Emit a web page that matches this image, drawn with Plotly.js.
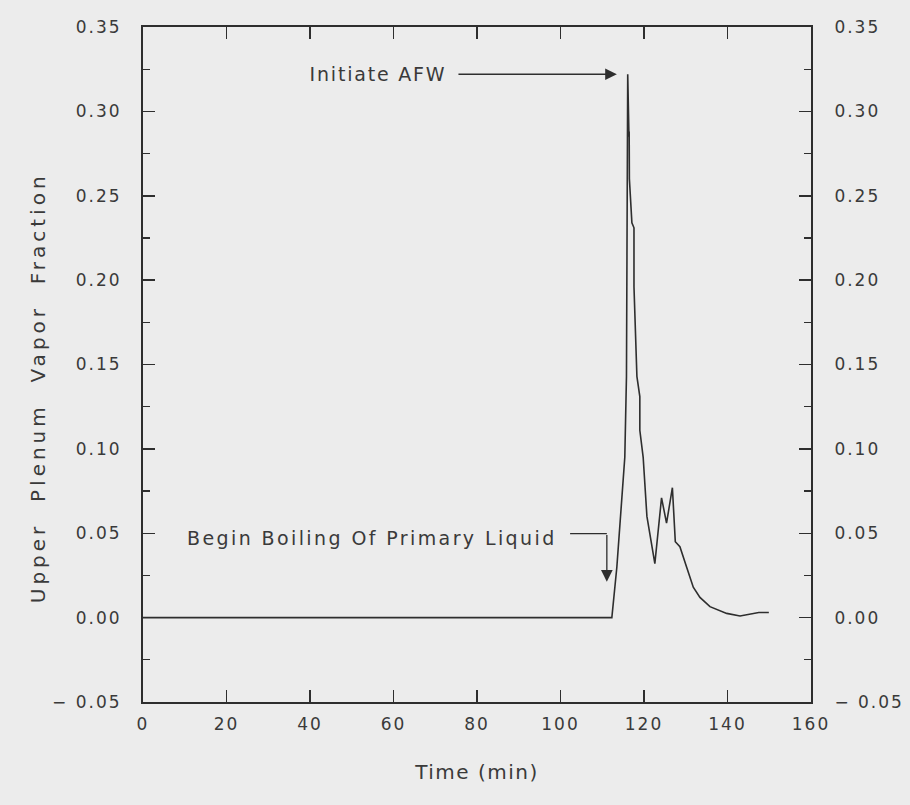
<!DOCTYPE html>
<html>
<head>
<meta charset="utf-8">
<script src="https://cdn.plot.ly/plotly-3.0.1.min.js"></script>
<style>
  html, body { margin:0; padding:0; background:#ececec; }
  .xtick text, .ytick text, .y2tick text { letter-spacing: 2px; }
  .annotation-text { letter-spacing: 2.4px; }
  .ytitle-ann .annotation-text { letter-spacing: 4px; }
  .afw-ann .annotation-text { letter-spacing: 1.8px; }
  .g-xtitle text { letter-spacing: 1.5px; }
</style>
</head>
<body>
<div id="chart" style="width:910px;height:805px;"></div>
<script>
// Time (min)
const timeMin = [0, 112.3, 113.5, 114.3, 115.4, 115.8, 116.1, 116.4, 116.35, 116.45, 116.4, 116.5,
  117.1, 117.6, 117.6, 118.3, 119.0, 118.95, 119.05, 118.95, 119.0, 119.8, 120.7, 122.6, 124.2, 125.4,
  126.8, 127.5, 128.6, 130.2, 131.8, 133.4, 135.8, 139.8, 143.0, 147.5, 149.9];
// Upper plenum vapor fraction
const vaporFraction = [0, 0, 0.030, 0.056, 0.095, 0.143, 0.322, 0.285, 0.268, 0.288, 0.262, 0.260,
  0.234, 0.231, 0.196, 0.143, 0.131, 0.113, 0.129, 0.112, 0.111, 0.095, 0.060, 0.032, 0.071, 0.056,
  0.077, 0.045, 0.042, 0.030, 0.018, 0.012, 0.0065, 0.0025, 0.001, 0.003, 0.003];

const xTickVals = [0, 20, 40, 60, 80, 100, 120, 140, 160];
const xTickText = ['0', '20', '40', '60', '80', '100', '120', '140', '160'];
const yTickVals = [-0.05, 0, 0.05, 0.10, 0.15, 0.20, 0.25, 0.30, 0.35];
const yTickText = ['\u2212 0.05', '0.00', '0.05', '0.10', '0.15', '0.20', '0.25', '0.30', '0.35'];

const ink = '#2e2e2e';
const txt = '#3a3a3a';

const traces = [
  { x: timeMin, y: vaporFraction, mode: 'lines', line: { color: ink, width: 1.6 }, hoverinfo: 'skip', showlegend: false },
  { x: timeMin, y: vaporFraction, yaxis: 'y2', mode: 'lines', line: { color: ink, width: 0 }, opacity: 0, hoverinfo: 'skip', showlegend: false }
];

const yCommon = {
  range: [-0.05, 0.35], tickmode: 'array', tickvals: yTickVals, ticktext: yTickText,
  ticks: 'inside', ticklen: 12, tickwidth: 1.5, tickcolor: ink,
  showline: true, linecolor: ink, linewidth: 2, showgrid: false, zeroline: false,
  minor: { tickmode: 'linear', tick0: 0, dtick: 0.025, ticks: 'inside', ticklen: 7, tickwidth: 1.2, tickcolor: ink, showgrid: false },
  tickfont: { family: 'DejaVu Sans', size: 17, color: txt },
  fixedrange: true
};

const layout = {
  width: 910, height: 805,
  paper_bgcolor: '#ececec', plot_bgcolor: '#ececec',
  margin: { l: 143, r: 99, t: 27, b: 103 },
  showlegend: false,
  font: { family: 'DejaVu Sans', color: txt, size: 16 },
  xaxis: {
    range: [0, 160], tickmode: 'array', tickvals: xTickVals, ticktext: xTickText,
    ticks: 'inside', ticklen: 12, tickwidth: 1.5, tickcolor: ink,
    showline: true, linecolor: ink, linewidth: 2, mirror: 'ticks',
    showgrid: false, zeroline: false, ticklabelstandoff: 6,
    tickfont: { family: 'DejaVu Sans', size: 17, color: txt },
    title: { text: 'Time (min)', font: { family: 'DejaVu Sans', size: 20, color: txt }, standoff: 32 },
    fixedrange: true
  },
  yaxis: Object.assign({}, yCommon, { side: 'left', ticklabelstandoff: 16 }),
  yaxis2: Object.assign({}, yCommon, { side: 'right', overlaying: 'y', ticklabelstandoff: 18 }),
  shapes: [
    { type: 'line', xref: 'x', yref: 'y', x0: 102.3, y0: 0.0498, x1: 111.1, y1: 0.0498, line: { color: ink, width: 1.4 } }
  ],
  annotations: [
    { xref: 'paper', yref: 'paper', x: -0.157, y: 0.465, text: 'Upper  Plenum  Vapor  Fraction', textangle: -90,
      showarrow: false, xanchor: 'center', yanchor: 'middle', font: { family: 'DejaVu Sans', size: 20, color: txt } },
    { xref: 'x', yref: 'y', x: 74.0, y: 0.322, text: 'Initiate AFW', showarrow: false, xanchor: 'right', yanchor: 'middle',
      font: { family: 'DejaVu Sans', size: 19, color: txt } },
    { xref: 'x', yref: 'y', axref: 'x', ayref: 'y', x: 113.5, y: 0.322, ax: 75.2, ay: 0.322, text: '', showarrow: true,
      arrowhead: 2, arrowsize: 1.8, arrowwidth: 1.3, arrowcolor: ink },
    { xref: 'x', yref: 'y', x: 99.6, y: 0.047, text: 'Begin Boiling Of Primary Liquid', showarrow: false, xanchor: 'right', yanchor: 'middle',
      font: { family: 'DejaVu Sans', size: 19, color: txt } },
    { xref: 'x', yref: 'y', axref: 'x', ayref: 'y', x: 111.1, y: 0.0213, ax: 111.1, ay: 0.0498, text: '', showarrow: true,
      arrowhead: 2, arrowsize: 1.8, arrowwidth: 1.3, arrowcolor: ink }
  ]
};

Plotly.newPlot('chart', traces, layout, { displayModeBar: false, staticPlot: true }).then(function () {
  const anns = document.querySelectorAll('.annotation');
  if (anns.length > 1) {
    anns[0].classList.add('ytitle-ann');
    anns[1].classList.add('afw-ann');
  }
});
</script>
</body>
</html>
